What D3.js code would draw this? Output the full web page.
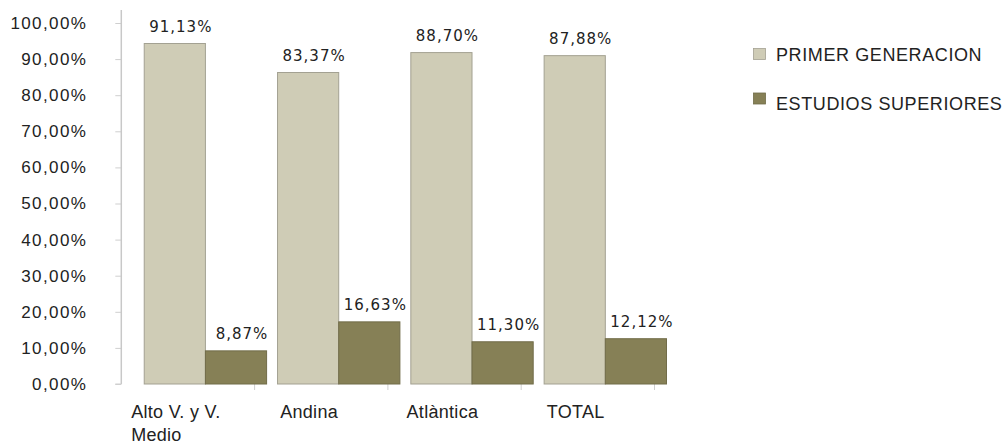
<!DOCTYPE html>
<html>
    <head>
        <meta charset="utf-8">
        <script src="https://cdn.jsdelivr.net/npm/d3@7"></script>
        <style>
            body { margin: 0; background: #fff; }
        </style>
    </head>
    <body>
        <svg id="chart" width="1006" height="444"></svg>
        <script>
            // Data
            var categories = ["Alto V. y V.\nMedio", "Andina", "Atlàntica", "TOTAL"];
            var series = ["PRIMER GENERACION", "ESTUDIOS SUPERIORES"];
            var primerGeneracion = [0.9113, 0.8337, 0.8870, 0.8788];
            var estudiosSuperiores = [0.0887, 0.1663, 0.1130, 0.1212];
            var yTicks = [0, 0.1, 0.2, 0.3, 0.4, 0.5, 0.6, 0.7, 0.8, 0.9, 1.0];

            var colors = ["#cfccb6", "#868056"];
            var strokes = ["#a3a192", "#716c49"];
            var values = [primerGeneracion, estudiosSuperiores];

            var svg = d3.select("svg#chart");
            var fmt = function(v) { return d3.format(".2f")(v * 100).replace(".", ",") + "%"; };

            // plot area
            var left = 121.3, bottom = 384;
            var x = d3.scaleBand().domain(categories).range([left, left + 4 * 133.3]).paddingInner(0).paddingOuter(0);
            // axis scale and bar scale: in the source the bars are drawn a bit taller than the axis
            var yAxisScale = d3.scaleLinear().domain([0, 1]).range([bottom, 23]);
            var y = d3.scaleLinear().domain([0, 1]).range([bottom, bottom - 361 * 1.035]);

            var step = x.step();
            var barOffset = step * 0.172;
            var barW = step * 0.459;

            // Y axis
            var yAxis = d3.axisLeft(yAxisScale).tickValues(yTicks).tickSize(6).tickFormat(fmt);
            var gy = svg.append("g").attr("transform", "translate(" + left + ",0)").call(yAxis);
            gy.select(".domain").remove();
            gy.selectAll(".tick line").attr("stroke", "#cfcfcf");
            gy.selectAll(".tick text").attr("x", -34).style("font-family", "'Liberation Sans', Arial, sans-serif")
                .style("font-size", "17px").style("letter-spacing", "1.4px").attr("fill", "#222");
            svg.append("line").attr("x1", left).attr("x2", left).attr("y1", 10).attr("y2", bottom)
                .attr("stroke", "#c8c8c8").attr("stroke-width", 1.5);

            // X ticks at band boundaries
            svg.append("g").selectAll("line").data(categories).enter().append("line")
                .attr("x1", function(d) { return x(d) + step; }).attr("x2", function(d) { return x(d) + step; })
                .attr("y1", bottom).attr("y2", bottom + 6).attr("stroke", "#cfcfcf");
            svg.append("line").attr("x1", left - 6).attr("x2", left).attr("y1", bottom).attr("y2", bottom).attr("stroke", "#cfcfcf");

            // Bars
            values.forEach(function(vals, s) {
                svg.append("g").selectAll("rect").data(vals).enter().append("rect")
                    .attr("x", function(d, i) { return x(categories[i]) + barOffset + s * barW; })
                    .attr("y", function(d) { return y(d); })
                    .attr("width", barW)
                    .attr("height", function(d) { return bottom - y(d); })
                    .attr("fill", colors[s]).attr("stroke", strokes[s]).attr("stroke-width", 1);

                svg.append("g").selectAll("text").data(vals).enter().append("text")
                    .attr("x", function(d, i) { return x(categories[i]) + barOffset + s * barW + barW / 2 + 6; })
                    .attr("y", function(d) { return y(d) - 12; })
                    .attr("text-anchor", "middle")
                    .style("font-family", "'DejaVu Sans', sans-serif").style("font-size", "15px")
                    .style("letter-spacing", "1px").attr("fill", "#222")
                    .text(function(d) { return fmt(d); });
            });

            // Category labels
            categories.forEach(function(c) {
                var lines = c.split("\n");
                var t = svg.append("text").style("font-family", "'Liberation Sans', Arial, sans-serif")
                    .style("font-size", "18px").style("letter-spacing", "0.3px").attr("fill", "#222");
                lines.forEach(function(l, i) {
                    t.append("tspan").attr("y", 418 + i * 22.5).text(l);
                });
                var w = 0;
                t.selectAll("tspan").each(function() { w = Math.max(w, this.getComputedTextLength()); });
                var cx = x(c) + barOffset + barW / 2 + 1;
                t.selectAll("tspan").attr("x", cx - w / 2);
            });

            // Legend
            var legend = svg.append("g");
            series.forEach(function(name, i) {
                legend.append("rect").attr("x", 753.5).attr("y", 48.5 + i * 44.5).attr("width", 12).attr("height", 11)
                    .attr("fill", colors[i]).attr("stroke", strokes[i]).attr("stroke-width", 0.8);
                legend.append("text").attr("x", 776).attr("y", 60.5 + i * 49.5)
                    .style("font-family", "'Liberation Sans', Arial, sans-serif").style("font-size", "18px")
                    .style("letter-spacing", "0.6px").attr("fill", "#222").text(name);
            });
        </script>
    </body>
</html>
